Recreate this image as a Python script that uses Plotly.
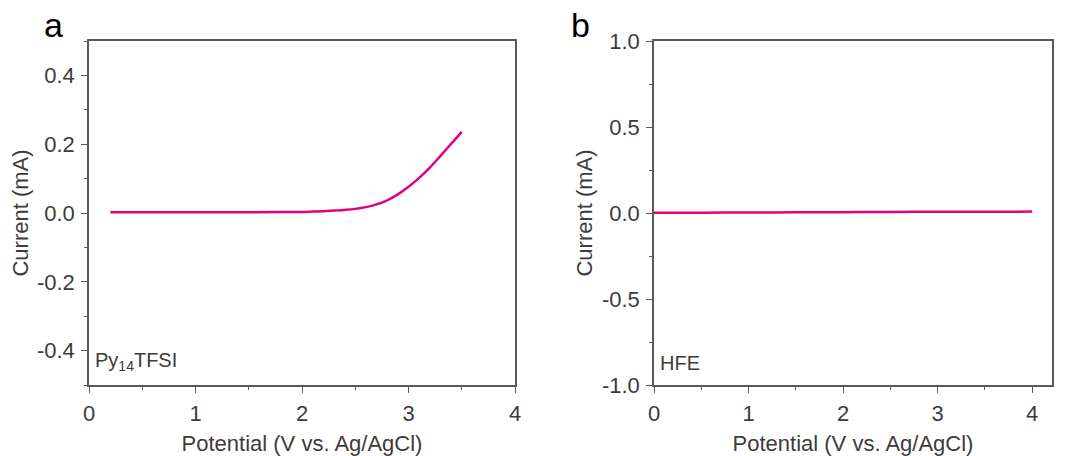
import plotly.graph_objects as go

# Panel a: Py14TFSI
a_potential = [0.2, 0.5, 1.0, 1.5, 1.8, 2.0, 2.1, 2.2, 2.3, 2.4, 2.5, 2.6, 2.7, 2.8, 2.9, 3.0, 3.1, 3.2, 3.3, 3.4, 3.5]
a_current = [0.002, 0.002, 0.002, 0.002, 0.003, 0.003, 0.004, 0.005, 0.007, 0.009, 0.012, 0.017, 0.025, 0.037, 0.054, 0.076, 0.102, 0.132, 0.166, 0.201, 0.236]

# Panel b: HFE
b_potential = [0.0, 0.5, 1.0, 1.5, 2.0, 2.5, 3.0, 3.5, 4.0]
b_current = [0.002, 0.002, 0.003, 0.004, 0.005, 0.006, 0.007, 0.007, 0.008]

panel_labels = ["a", "b"]
electrolytes = ["Py<sub>14</sub>TFSI", "HFE"]
x_title = "Potential (V vs. Ag/AgCl)"
y_title = "Current (mA)"
a_yticks = [-0.4, -0.2, 0.0, 0.2, 0.4]
a_yticktext = ["-0.4", "-0.2", "0.0", "0.2", "0.4"]
b_yticks = [-1.0, -0.5, 0.0, 0.5, 1.0]
b_yticktext = ["-1.0", "-0.5", "0.0", "0.5", "1.0"]
xticks = [0, 1, 2, 3, 4]
xticktext = ["0", "1", "2", "3", "4"]

LINE = "#E5007D"
AX = "#595959"
TXT = "#3c3c3c"
FONT = "Liberation Sans, Arial, sans-serif"
FS = 22

fig = go.Figure()
fig.add_trace(go.Scatter(x=a_potential, y=a_current, mode="lines", line=dict(color=LINE, width=2.5, shape="spline"), xaxis="x", yaxis="y", showlegend=False))
fig.add_trace(go.Scatter(x=b_potential, y=b_current, mode="lines", line=dict(color=LINE, width=2.5, shape="spline"), xaxis="x2", yaxis="y2", showlegend=False))

W, H = 1072, 456
ydom = [(H - 385) / H, (H - 41) / H]

common_axis = dict(showline=True, linecolor=AX, linewidth=1.6, mirror=True, ticks="outside",
                   ticklen=6, tickwidth=1.3, tickcolor=AX, showgrid=False, zeroline=False,
                   ticklabelstandoff=2, automargin=False,
                   tickfont=dict(family=FONT, size=FS, color=TXT))
title_font = dict(family=FONT, size=FS, color=TXT)
minor_style = dict(ticks="outside", ticklen=3.5, tickcolor=AX, tickwidth=1.3)

fig.update_layout(
    width=W, height=H, margin=dict(l=0, r=0, t=0, b=0, pad=0, autoexpand=False),
    paper_bgcolor="white", plot_bgcolor="white",
    xaxis=dict(domain=[89 / W, 515 / W], range=[0, 4], tickvals=xticks, ticktext=xticktext, anchor="y",
               minor=dict(dtick=0.5, **minor_style),
               title=dict(text=x_title, standoff=10, font=title_font), **common_axis),
    yaxis=dict(domain=ydom, range=[-0.5, 0.5], tickvals=a_yticks, ticktext=a_yticktext, anchor="x",
               minor=dict(dtick=0.1, **minor_style),
               title=dict(text=y_title, standoff=2, font=title_font), **common_axis),
    xaxis2=dict(domain=[654 / W, 1052 / W], range=[0, 4.21], tickvals=xticks, ticktext=xticktext, anchor="y2",
                minor=dict(dtick=0.5, **minor_style),
                title=dict(text=x_title, standoff=10, font=title_font), **common_axis),
    yaxis2=dict(domain=ydom, range=[-1.0, 1.0], tickvals=b_yticks, ticktext=b_yticktext, anchor="x2",
                minor=dict(dtick=0.25, **minor_style),
                title=dict(text=y_title, standoff=3, font=title_font), **common_axis),
)

# panel letters
for lab, xpx in zip(panel_labels, [53, 580]):
    fig.add_annotation(text=lab, x=xpx / W, y=(H - 25) / H, xref="paper", yref="paper",
                       showarrow=False, font=dict(family=FONT, size=34, color="black"),
                       xanchor="center", yanchor="middle")

# electrolyte labels
for lab, xr, yr in zip(electrolytes, ["x domain", "x2 domain"], ["y domain", "y2 domain"]):
    fig.add_annotation(text=lab, x=0.01, y=0.025, xref=xr, yref=yr, showarrow=False,
                       xanchor="left", yanchor="bottom", font=dict(family=FONT, size=20, color=TXT))

fig.write_html("out.html")
